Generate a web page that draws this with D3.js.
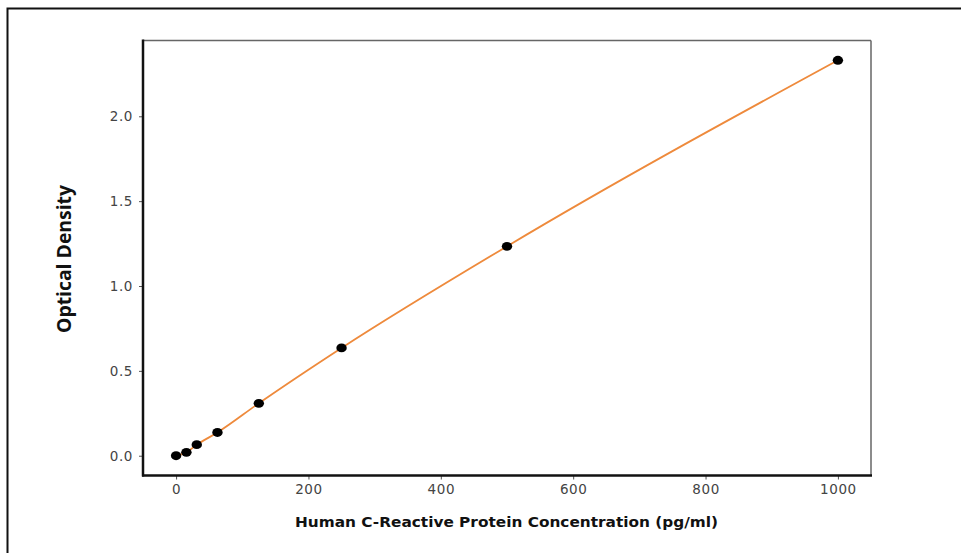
<!DOCTYPE html>
<html>
<head>
<meta charset="utf-8">
<script src="https://cdn.jsdelivr.net/npm/d3@7"></script>
<style>
  body { margin: 0; background: #fff; }
  svg { display: block; }
</style>
</head>
<body>
<div id="chart"></div>
<script>
// standard curve readings
var concentration = [0, 15.6, 31.25, 62.5, 125, 250, 500, 1000];
var opticalDensity = [0.0, 0.02, 0.065, 0.137, 0.309, 0.635, 1.234, 2.33];
var xTicks = [0, 200, 400, 600, 800, 1000];
var yTicks = [0.0, 0.5, 1.0, 1.5, 2.0];

var W = 961, H = 553;
var plot = { left: 143, right: 871, top: 40.5, bottom: 475.5 };

var svg = d3.select("#chart").append("svg")
	.attr("width", W).attr("height", H);

// outer frame (runs off the right and bottom edge)
svg.append("rect")
	.attr("x", 7.5).attr("y", 8.5)
	.attr("width", 980).attr("height", 580)
	.attr("fill", "none").attr("stroke", "#111").attr("stroke-width", 2);

var x = d3.scaleLinear().domain([-50, 1050]).range([plot.left, plot.right]);
var y = d3.scaleLinear().domain([-0.1165, 2.4465]).range([plot.bottom, plot.top]);

// --- axes --- \\
var xAxis = svg.append("g")
	.attr("transform", "translate(0," + plot.bottom + ")")
	.call(d3.axisBottom(x).tickValues(xTicks).tickSize(4).tickPadding(5)
		.tickFormat(d3.format("d")));
var yAxis = svg.append("g")
	.attr("transform", "translate(" + plot.left + ",0)")
	.call(d3.axisLeft(y).tickValues(yTicks).tickSize(4).tickPadding(6)
		.tickFormat(d3.format(".1f")));

[xAxis, yAxis].forEach(function (ax) {
	ax.select(".domain").remove();
	ax.selectAll(".tick line").attr("stroke", "#555").attr("stroke-width", 1);
	ax.selectAll(".tick text")
		.attr("fill", "#444")
		.style("font-family", "DejaVu Sans, sans-serif")
		.style("font-size", "13.5px")
		.style("letter-spacing", "0.6px");
});

// spines: left/bottom heavy black, top/right thin grey
svg.append("line").attr("x1", plot.right).attr("x2", plot.right)
	.attr("y1", plot.top).attr("y2", plot.bottom)
	.attr("stroke", "#666").attr("stroke-width", 1.5);
svg.append("line").attr("x1", plot.left).attr("x2", plot.right)
	.attr("y1", plot.top).attr("y2", plot.top)
	.attr("stroke", "#666").attr("stroke-width", 1.5);
svg.append("line").attr("x1", plot.left).attr("x2", plot.left)
	.attr("y1", plot.top - 1).attr("y2", plot.bottom + 1)
	.attr("stroke", "#111").attr("stroke-width", 2.5);
svg.append("line").attr("x1", plot.left - 1).attr("x2", plot.right + 1)
	.attr("y1", plot.bottom).attr("y2", plot.bottom)
	.attr("stroke", "#111").attr("stroke-width", 2.5);

// --- fit line + points --- \\
var pts = concentration.map(function (c, i) { return [c, opticalDensity[i]]; });

svg.append("path")
	.datum(pts)
	.attr("fill", "none")
	.attr("stroke", "#ee8a3c")
	.attr("stroke-width", 1.8)
	.attr("d", d3.line()
		.x(function (d) { return x(d[0]); })
		.y(function (d) { return y(d[1]); })
		.curve(d3.curveMonotoneX));

svg.selectAll(".pt").data(pts).enter().append("ellipse")
	.attr("class", "pt")
	.attr("cx", function (d) { return x(d[0]); })
	.attr("cy", function (d) { return y(d[1]); })
	.attr("rx", 5.2).attr("ry", 4.4)
	.attr("fill", "#000");

// --- labels --- \\
svg.append("text")
	.attr("x", 506.5).attr("y", 527)
	.attr("text-anchor", "middle")
	.attr("textLength", 423)
	.attr("lengthAdjust", "spacingAndGlyphs")
	.style("font-family", "DejaVu Sans, sans-serif")
	.style("font-weight", "bold")
	.style("font-size", "13.5px")
	.attr("fill", "#111")
	.text("Human C-Reactive Protein Concentration (pg/ml)");

svg.append("text")
	.attr("transform", "translate(71,259) rotate(-90)")
	.attr("text-anchor", "middle")
	.attr("textLength", 148)
	.attr("lengthAdjust", "spacingAndGlyphs")
	.style("font-family", "Open Sans, sans-serif")
	.style("font-weight", "bold")
	.style("font-size", "20px")
	.attr("fill", "#111")
	.text("Optical Density");
</script>
</body>
</html>
